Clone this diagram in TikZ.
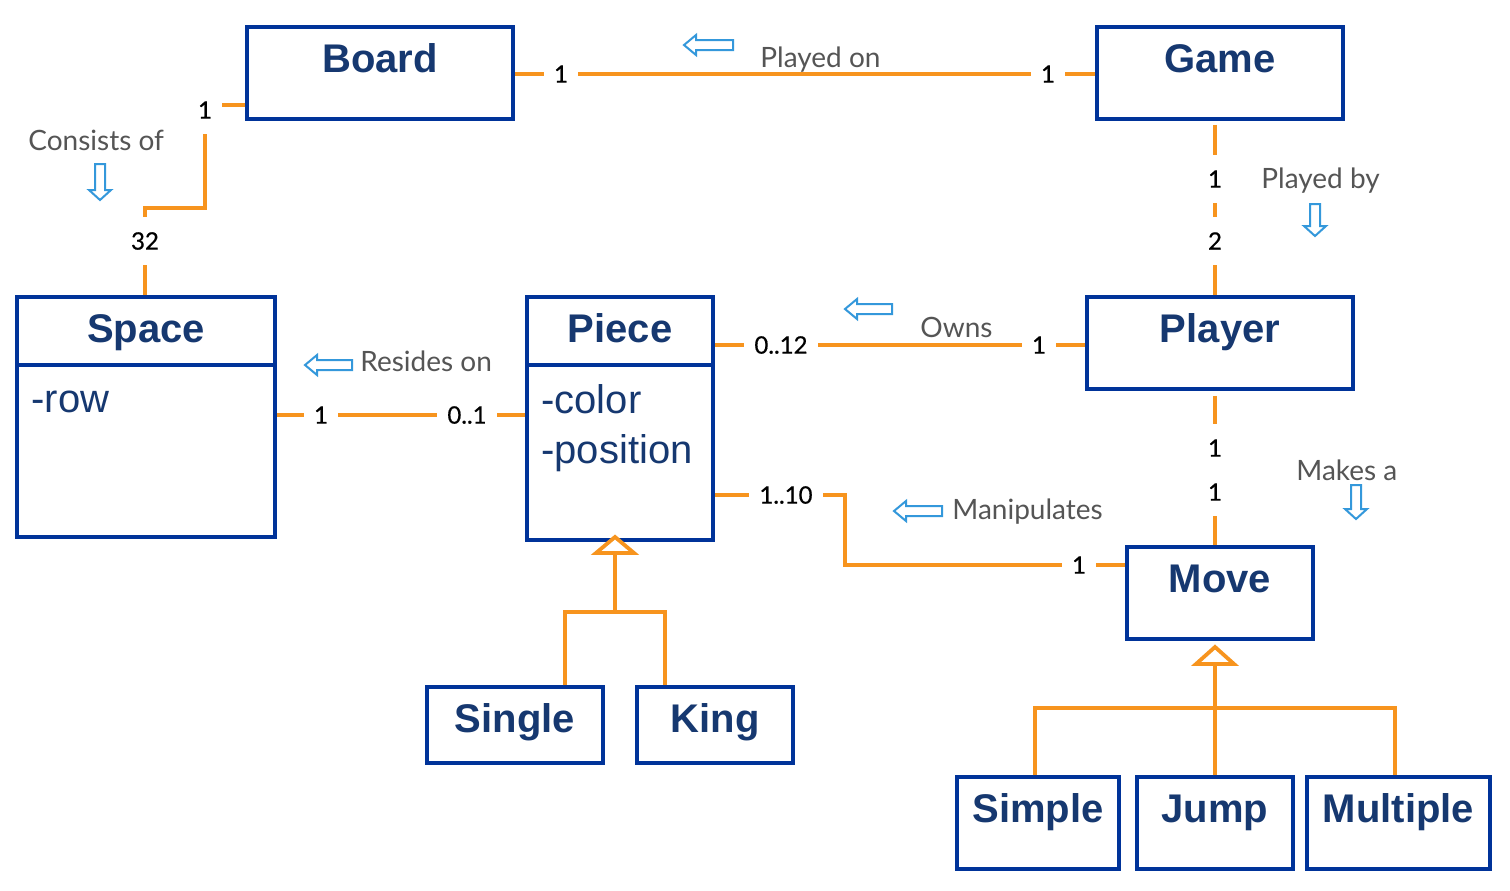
\documentclass[tikz,border=0pt]{standalone}
\usepackage{fontspec}
\setmainfont{Lato}
\newfontfamily\arialf{Liberation Sans}
\newfontfamily\numf{Lato}[FakeBold=0.6]
\definecolor{boxblue}{RGB}{0,51,153}
\definecolor{navy}{RGB}{22,56,112}
\definecolor{conncol}{RGB}{247,148,30}
\definecolor{labgray}{RGB}{85,85,85}
\definecolor{arrblue}{RGB}{52,152,219}
\tikzset{
  box/.style={draw=boxblue, line width=1.75pt, rectangle, inner sep=0pt, fill=white},
  boxline/.style={draw=boxblue, line width=1.75pt},
  titletext/.style={font=\arialf\bfseries\fontsize{20pt}{24pt}\selectfont, text=navy, inner sep=0pt, anchor=base},
  attrtext/.style={font=\arialf\fontsize{20pt}{24pt}\selectfont, text=navy, inner sep=0pt, anchor=base west},
  conn/.style={draw=conncol, line width=1.9pt},
  mult/.style={fill=white, inner xsep=5pt, inner ysep=7.5pt, font=\numf\fontsize{12pt}{14pt}\selectfont, text=black},
  rolelab/.style={font=\fontsize{14pt}{17pt}\selectfont, text=labgray, inner sep=0pt, anchor=base west},
  hollow/.style={draw=arrblue, line width=1pt, line join=miter},
  gentri/.style={draw=conncol, line width=1.9pt, fill=white},
}
\newcommand\umlbox[6]{%
  \pgfmathsetmacro\bw{(#4-#2)*0.5}%
  \pgfmathsetmacro\bh{(#5-#3)*0.5}%
  \node[box, minimum width=\bw pt, minimum height=\bh pt] (#1) at ({(#2+#4)/2},{(#3+#5)/2}) {};
  \node[titletext] (#1t) at ({(#2+#4)/2},{#3+45}) {#6};
}
\newcommand\larrow[3]{%
  \draw[hollow] (#1,#2) -- ({#1+12},{#2-10}) -- ({#1+12},{#2-5}) -- ({#3},{#2-5}) -- ({#3},{#2+5}) -- ({#1+12},{#2+5}) -- ({#1+12},{#2+10}) -- cycle;}
\newcommand\darrow[3]{%
  \draw[hollow] ({#1-5},{#2}) -- ({#1+5},{#2}) -- ({#1+5},{#3-10}) -- ({#1+11},{#3-10}) -- ({#1},{#3}) -- ({#1-11},{#3-10}) -- ({#1-5},{#3-10}) -- cycle;}
\begin{document}
\begin{tikzpicture}[x=0.5pt,y=-0.5pt]
\useasboundingbox[fill=white] (0,0) rectangle (1510,890);

% boxes
\umlbox{Board}{247}{27}{513}{119}{Board}
\umlbox{Game}{1097}{27}{1343}{119}{Game}
\umlbox{Space}{17}{297}{275}{537}{Space}
\umlbox{Piece}{527}{297}{713}{540}{Piece}
\umlbox{Player}{1087}{297}{1353}{389}{Player}
\umlbox{Move}{1127}{547}{1313}{639}{Move}
\umlbox{Single}{427}{687}{603}{763}{Single}
\umlbox{King}{637}{687}{793}{763}{King}
\umlbox{Simple}{957}{777}{1119}{869}{Simple}
\umlbox{Jump}{1137}{777}{1293}{869}{Jump}
\umlbox{Multiple}{1307}{777}{1490}{869}{Multiple}

% dividers and attributes
\coordinate (h365) at (0,365);
\draw[boxline] (Space.west |- h365) -- (Space.east |- h365);
\draw[boxline] (Piece.west |- h365) -- (Piece.east |- h365);
\node[attrtext] (spacea) at (31,412) {-row};
\node[attrtext] (piecea1) at (541,413) {-color};
\node[attrtext] (piecea2) at (541,463) {-position};

% helper coordinates
\coordinate (h74) at (0,74);
\coordinate (bsA) at (205,105);
\coordinate (bsB) at (145,208);
\coordinate (gpx) at (1215,0);
\coordinate (h415) at (0,415);
\coordinate (h345) at (0,345);
\coordinate (pmA) at (845,495);
\coordinate (pmB) at (845,565);
\coordinate (ptri) at (615,553);
\coordinate (pj) at (615,612);
\coordinate (sgx) at (565,0);
\coordinate (kgx) at (665,0);
\coordinate (mtri) at (1215,664);
\coordinate (mj) at (1215,708);
\coordinate (smx) at (1035,0);
\coordinate (mlx) at (1395,0);

% connectors
\draw[conn] (Board.east |- h74) -- (Game.west |- h74);
\draw[conn] (Board.west |- bsA) -- (bsA) |- (bsB) -- (Space.north -| bsB);
\draw[conn, shorten <=2pt] (Game.south -| gpx) -- (Player.north -| gpx);
\draw[conn] (Space.east |- h415) -- (Piece.west |- h415);
\draw[conn] (Piece.east |- h345) -- (Player.west |- h345);
\draw[conn] (Piece.east |- pmA) -- (pmA) -- (pmB) -- (Move.west |- pmB);
\draw[conn, shorten <=2.5pt] (Player.south -| gpx) -- (Move.north -| gpx);

% generalizations
\draw[conn] (pj) -- (ptri);
\draw[conn] (Single.north -| sgx) |- (pj) -| (King.north -| kgx);
\draw[gentri] (596,553) -- (634,553) -- (615,537) -- cycle;
\draw[conn] (Jump.north) -- (mtri);
\draw[conn] (Simple.north -| smx) |- (mj) -| (Multiple.north -| mlx);
\draw[gentri] (1196,664) -- (1234,664) -- (1215,647) -- cycle;

% multiplicities
\node[mult] (m1) at (561,74) {1};
\node[mult] (m2) at (1048,74) {1};
\node[mult] (m3) at (205,110) {1};
\node[mult] (m4) at (145,241) {32};
\node[mult] (m5) at (1215,179) {1};
\node[mult] (m6) at (1215,241) {2};
\node[mult] (m7) at (321,415) {1};
\node[mult] (m8) at (467,415) {0..1};
\node[mult] (m9) at (781,345) {0..12};
\node[mult] (m10) at (1039,345) {1};
\node[mult] (m11) at (786,495) {1..10};
\node[mult] (m12) at (1079,565) {1};
\node[mult] (m13) at (1215,448) {1};
\node[mult] (m14) at (1215,492) {1};

% role labels
\node[rolelab] (r1) at (760,67) {Played on};
\node[rolelab] (r2) at (28,150) {Consists of};
\node[rolelab] (r3) at (1261,188) {Played by};
\node[rolelab] (r4) at (360,371) {Resides on};
\node[rolelab] (r5) at (920,337) {Owns};
\node[rolelab] (r6) at (952,519) {Manipulates};
\node[rolelab] (r7) at (1296,480) {Makes a};

% direction arrows
\larrow{684}{45}{733}
\darrow{100}{164}{200}
\darrow{1315}{204}{236}
\larrow{305}{365}{352}
\larrow{845}{309}{892}
\larrow{894}{511}{942}
\darrow{1356}{485}{519}
\end{tikzpicture}
\end{document}
